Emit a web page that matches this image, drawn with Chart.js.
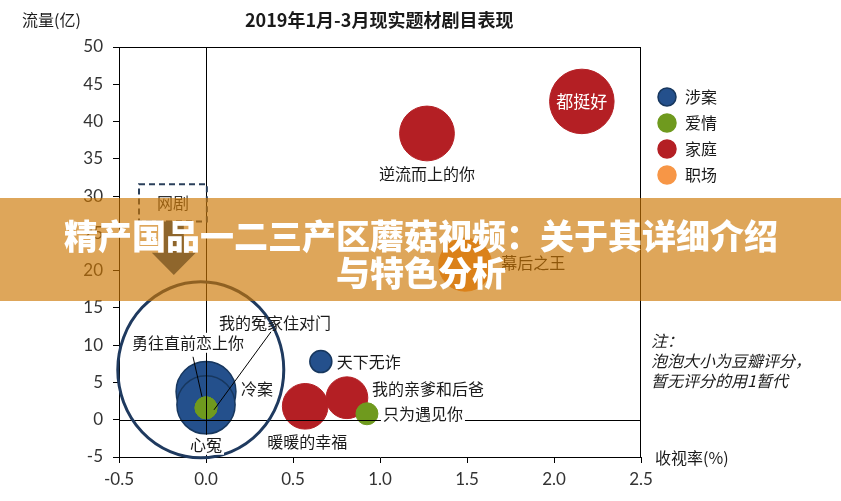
<!DOCTYPE html>
<html>
<head>
<meta charset="utf-8">
<script src="https://cdn.jsdelivr.net/npm/chart.js@4"></script>
<style>
  html, body { margin: 0; padding: 0; background: #fff; }
</style>
</head>
<body>
<canvas id="chart_bubble" width="841" height="501"></canvas>
<script>
// categories and shows
const categories = ['涉案', '爱情', '家庭', '职场'];
const showNames = ['冷案', '心冤', '天下无诈', '勇往直前恋上你', '我的冤家住对门', '只为遇见你',
                   '都挺好', '逆流而上的你', '暖暖的幸福', '我的亲爹和后爸', '幕后之王'];
const showType  = ['涉案', '涉案', '涉案', '爱情', '爱情', '爱情',
                   '家庭', '家庭', '家庭', '家庭', '职场'];
const ratingPct = [0, 0, 0.66, 0, 0, 0.925, 2.16, 1.27, 0.57, 0.81, 1.49];   // 收视率(%)
const trafficYi = [3.8, 2.0, 7.8, 1.6, 1.6, 0.8, 42.7, 38.4, 1.8, 2.95, 20.8]; // 流量(亿)
const doubanScore = [7.4, 7.0, 1, 1, 1, 1, 8.6, 6.2, 4.3, 3.6, 5.8];          // bubble size
const xTicks = [-0.5, 0, 0.5, 1, 1.5, 2, 2.5];
const yTicks = [-5, 0, 5, 10, 15, 20, 25, 30, 35, 40, 45, 50];

const colors = {
  '涉案': { bg: '#24508C', border: '#17375E' },
  '爱情': { bg: '#6F9A1E', border: '#6F9A1E' },
  '家庭': { bg: '#B41F24', border: '#B41F24' },
  '职场': { bg: '#F79646', border: '#F79646' }
};
const drawOrder = { '涉案': 4, '家庭': 3, '爱情': 2, '职场': 1 };

// bubble area follows the score, score 1 -> 11px radius
function bubbleRadius(score) { return 11 * Math.sqrt(score); }

const datasets = categories.map(function(cat) {
  const pts = [];
  showNames.forEach(function(name, i) {
    if (showType[i] === cat) {
      pts.push({ x: ratingPct[i], y: trafficYi[i], r: bubbleRadius(doubanScore[i]), name: name });
    }
  });
  return {
    label: cat,
    data: pts,
    backgroundColor: colors[cat].bg,
    borderColor: colors[cat].border,
    borderWidth: cat === '涉案' ? 1.5 : 1,
    order: drawOrder[cat]
  };
});

// where each label sits, relative to its bubble (pixels)
const labelLayout = {
  '冷案':         { dx: 35, dy: -2, align: 'left' },
  '心冤':         { dx: 0, dy: 40, align: 'center', bg: true },
  '天下无诈':     { dx: 16, dy: 0, align: 'left' },
  '勇往直前恋上你': { dx: -74, dy: -65, align: 'left', bg: true, lead: [-13, -51, -4, -11] },
  '我的冤家住对门': { dx: 13, dy: -85, align: 'left', lead: [65, -76, 8, 2] },
  '只为遇见你':   { dx: 16, dy: 0, align: 'left', bg: true },
  '都挺好':       { dx: 0, dy: 0, align: 'center', color: '#fff', size: 17 },
  '逆流而上的你': { dx: 0, dy: 40, align: 'center' },
  '暖暖的幸福':   { dx: 2, dy: 36, align: 'center' },
  '我的亲爹和后爸': { dx: 25, dy: -9, align: 'left' },
  '幕后之王':     { dx: 36, dy: -2, align: 'left' }
};

const CJK = '"Noto Sans CJK SC", "Noto Sans", sans-serif';

const decorPlugin = {
  id: 'decor',
  afterDatasetsDraw(chart) {
    const ctx = chart.ctx;
    const xs = chart.scales.x, ys = chart.scales.y;
    const a = chart.chartArea;
    ctx.save();
    // frame + zero lines
    ctx.strokeStyle = '#000';
    ctx.lineWidth = 1;
    ctx.beginPath();
    ctx.moveTo(a.left, a.top + 0.5); ctx.lineTo(a.right, a.top + 0.5);
    ctx.moveTo(a.right - 0.5, a.top); ctx.lineTo(a.right - 0.5, a.bottom);
    const x0 = Math.round(xs.getPixelForValue(0)) + 0.5;
    const y0 = Math.round(ys.getPixelForValue(0)) + 0.5;
    ctx.moveTo(x0, a.top); ctx.lineTo(x0, a.bottom);
    ctx.moveTo(a.left, y0); ctx.lineTo(a.right, y0);
    ctx.stroke();

    // web drama ring
    const cx = xs.getPixelForValue(-0.03), cy = ys.getPixelForValue(6.7);
    const rx = Math.abs(xs.getPixelForValue(0.447) - xs.getPixelForValue(-0.03));
    const ry = Math.abs(ys.getPixelForValue(6.7) - ys.getPixelForValue(-5.1));
    ctx.strokeStyle = '#1F3A5F';
    ctx.lineWidth = 3;
    ctx.beginPath();
    ctx.ellipse(cx, cy, rx, ry, 0, 0, Math.PI * 2);
    ctx.stroke();

    // dashed 网剧 box
    const bx1 = xs.getPixelForValue(-0.385), bx2 = xs.getPixelForValue(0.005);
    const by1 = ys.getPixelForValue(31.6), by2 = ys.getPixelForValue(26.6);
    ctx.setLineDash([6, 4]);
    ctx.lineWidth = 2;
    ctx.strokeStyle = '#2A3F5A';
    ctx.strokeRect(bx1, by1, bx2 - bx1, by2 - by1);
    ctx.setLineDash([]);
    ctx.fillStyle = '#333';
    ctx.font = '16px ' + CJK;
    ctx.textAlign = 'center';
    ctx.textBaseline = 'middle';
    ctx.fillText('网剧', (bx1 + bx2) / 2, by1 + 19);

    // arrow down
    const ax = xs.getPixelForValue(-0.185);
    const ayTop = by2, ayHead = ys.getPixelForValue(22.4), ayTip = ys.getPixelForValue(19.4);
    ctx.fillStyle = '#1F497D';
    ctx.beginPath();
    ctx.moveTo(ax - 10, ayTop);
    ctx.lineTo(ax + 10, ayTop);
    ctx.lineTo(ax + 10, ayHead);
    ctx.lineTo(ax + 22, ayHead);
    ctx.lineTo(ax, ayTip);
    ctx.lineTo(ax - 22, ayHead);
    ctx.lineTo(ax - 10, ayHead);
    ctx.closePath();
    ctx.fill();

    // bubble labels
    chart.data.datasets.forEach(function(ds, di) {
      const meta = chart.getDatasetMeta(di);
      meta.data.forEach(function(el, pi) {
        const name = ds.data[pi].name;
        const L = labelLayout[name];
        if (!L) return;
        const size = L.size || 16;
        ctx.font = size + 'px ' + CJK;
        ctx.textAlign = L.align;
        ctx.textBaseline = 'middle';
        const tx = el.x + L.dx, ty = el.y + L.dy;
        if (L.lead) {
          ctx.strokeStyle = '#000';
          ctx.lineWidth = 1;
          ctx.beginPath();
          ctx.moveTo(el.x + L.lead[0], el.y + L.lead[1]);
          ctx.lineTo(el.x + L.lead[2], el.y + L.lead[3]);
          ctx.stroke();
        }
        if (L.bg) {
          const w = ctx.measureText(name).width;
          const left = L.align === 'center' ? tx - w / 2 : tx;
          ctx.fillStyle = '#fff';
          ctx.fillRect(left - 2, ty - size / 2 - 2, w + 4, size + 4);
        }
        ctx.fillStyle = L.color || '#1a1a1a';
        ctx.fillText(name, tx, ty);
      });
    });
    ctx.restore();
  },
  afterDraw(chart) {
    const ctx = chart.ctx;
    ctx.save();
    // titles
    ctx.fillStyle = '#1a1a1a';
    ctx.textBaseline = 'middle';
    ctx.textAlign = 'left';
    ctx.font = 'bold 18px ' + CJK;
    ctx.fillText('2019年1月-3月现实题材剧目表现', 245, 20);
    ctx.font = '16px ' + CJK;
    ctx.fillText('流量(亿)', 22, 20);
    ctx.fillText('收视率(%)', 655, 458);

    // legend
    chart.data.datasets.forEach(function(ds, i) {
      const y = 97 + i * 26;
      ctx.beginPath();
      ctx.arc(667, y, 9, 0, Math.PI * 2);
      ctx.fillStyle = ds.backgroundColor;
      ctx.fill();
      ctx.lineWidth = 1.5;
      ctx.strokeStyle = ds.borderColor;
      ctx.stroke();
      ctx.fillStyle = '#1a1a1a';
      ctx.font = '16px ' + CJK;
      ctx.fillText(ds.label, 685, y);
    });

    // note
    ctx.font = 'italic 16px ' + CJK;
    ctx.fillText('注：', 651, 341);
    ctx.fillText('泡泡大小为豆瓣评分，', 651, 361);
    ctx.fillText('暂无评分的用1暂代', 651, 381);

    // banner overlay
    ctx.fillStyle = 'rgba(204,118,2,0.65)';
    ctx.fillRect(0, 198, 841, 103);
    ctx.fillStyle = '#fff';
    ctx.textAlign = 'center';
    ctx.font = '900 34px ' + CJK;
    ctx.fillText('精产国品一二三产区蘑菇视频：关于其详细介绍', 421, 236);
    ctx.fillText('与特色分析', 421, 273);
    ctx.restore();
  }
};

const tickFont = { family: 'Lato, "Open Sans", sans-serif', size: 17 };

window.onload = function() {
  const ctx_bubble = document.getElementById('chart_bubble').getContext('2d');
  const chart = new Chart(ctx_bubble, {
    type: 'bubble',
    data: { datasets: datasets },
    options: {
      responsive: false,
      animation: false,
      devicePixelRatio: 1,
      layout: { padding: { top: 47, right: 200, left: 0, bottom: 0 } },
      plugins: {
        legend: { display: false },
        tooltip: { enabled: false }
      },
      scales: {
        x: {
          type: 'linear',
          min: xTicks[0],
          max: xTicks[xTicks.length - 1],
          afterBuildTicks: function(s) { s.ticks = xTicks.map(v => ({ value: v })); },
          afterFit: function(s) { s.height = 44; },
          ticks: {
            font: tickFont, color: '#333', padding: 6, maxRotation: 0, autoSkip: false,
            callback: v => Number(v).toFixed(1)
          },
          grid: { drawOnChartArea: false, drawTicks: true, tickLength: 6, tickColor: '#000' },
          border: { color: '#000', width: 1 }
        },
        y: {
          type: 'linear',
          min: yTicks[0],
          max: yTicks[yTicks.length - 1],
          afterBuildTicks: function(s) { s.ticks = yTicks.map(v => ({ value: v })); },
          afterFit: function(s) { s.width = 119; },
          ticks: { font: tickFont, color: '#333', padding: 10, autoSkip: false },
          grid: { drawOnChartArea: false, drawTicks: true, tickLength: 6, tickColor: '#000' },
          border: { color: '#000', width: 1 }
        }
      }
    },
    plugins: [decorPlugin]
  });
};
</script>
</body>
</html>
